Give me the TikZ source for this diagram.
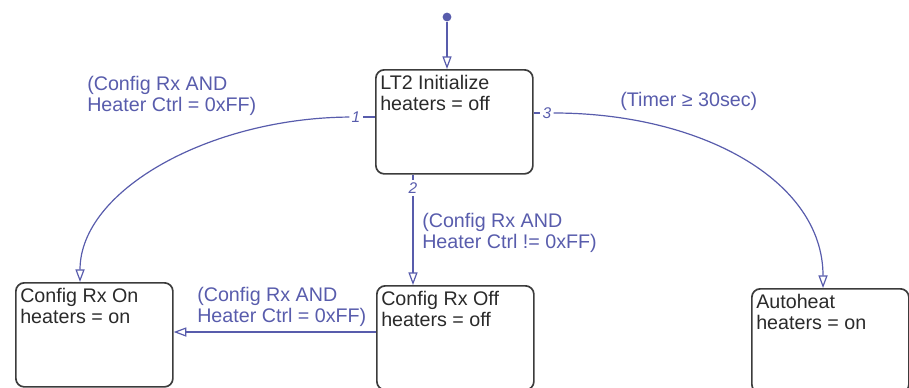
\documentclass[tikz,border=0pt]{standalone}
\usepackage{fontspec}
\setmainfont{Liberation Sans}
\usetikzlibrary{arrows.meta,positioning}

\definecolor{sfblue}{RGB}{88,92,172}
\definecolor{sfgray}{RGB}{60,60,60}

\tikzset{
  state/.style={draw=sfgray, line width=1.2pt, rounded corners=6pt, minimum width=3.925cm, minimum height=2.6cm, anchor=north west, inner sep=0pt},
  stxt/.style={anchor=north west, align=left, text=sfgray!70!black, inner sep=0pt, font=\fontsize{14}{15}\selectfont},
  trans/.style={draw=sfblue, line width=0.85pt},
  tarrow/.style={trans, -{Triangle[open, length=9pt, width=6.5pt]}},
  guard/.style={anchor=north west, align=left, text=sfblue, inner sep=0pt, font=\fontsize{14}{15}\selectfont},
  tnum/.style={text=sfblue, inner sep=1.5pt, font=\fontsize{11}{12}\selectfont\itshape}
}

\begin{document}
\begin{tikzpicture}[x=0.025cm, y=-0.025cm]
  \useasboundingbox (0,0) rectangle (909,388);

  % states
  \node[state] (init) at (375,69) {};
  \node[state] (cron) at (15,282) {};
  \node[state] (croff) at (376,285) {};
  \node[state] (auto) at (751,288) {};

  \node[stxt] (initT) at ([xshift=0.125cm, yshift=-0.14cm]init.north west) {LT2 Initialize\\heaters = off};
  \node[stxt] (cronT) at ([xshift=0.125cm, yshift=-0.14cm]cron.north west) {Config Rx On\\heaters = on};
  \node[stxt] (croffT) at ([xshift=0.125cm, yshift=-0.14cm]croff.north west) {Config Rx Off\\heaters = off};
  \node[stxt] (autoT) at ([xshift=0.125cm, yshift=-0.14cm]auto.north west) {Autoheat\\heaters = on};

  % default transition
  \node[circle, fill=sfblue, inner sep=0pt, minimum size=0.22cm] (dflt) at (447,17) {};
  \draw[tarrow] (dflt) -- (dflt |- init.north);

  % transition 1
  \node[tnum] (n1) at (356,117) {1};
  \draw[trans] (init.west |- n1) -- (n1);
  \draw[tarrow] (n1) .. controls (210,118) and (80,190) .. ([xshift=1.625cm]cron.north west);

  % transition 2
  \node[tnum] (n2) at (413,188) {2};
  \draw[trans] (init.south -| n2) -- (n2);
  \draw[tarrow] (n2) -- (n2 |- croff.north);

  % transition 3
  \node[tnum] (n3) at (547,113) {3};
  \draw[trans] (init.east |- n3) -- (n3);
  \draw[tarrow] (n3) .. controls (700,113) and (823,180) .. ([xshift=1.8cm]auto.north west);

  % transition 4
  \coordinate (t4s) at ([yshift=-1.175cm]croff.north west);
  \draw[tarrow] (t4s) -- (t4s -| cron.east);

  % guards
  \node[guard] (ga) at (87,76) {(Config Rx AND\\Heater Ctrl = 0xFF)};
  \node[guard] (gb) at (422,213) {(Config Rx AND\\Heater Ctrl != 0xFF)};
  \node[guard] (gc) at (620,92) {(Timer ≥ 30sec)};
  \node[guard] (gd) at (197,287) {(Config Rx AND\\Heater Ctrl = 0xFF)};
\end{tikzpicture}
\end{document}
